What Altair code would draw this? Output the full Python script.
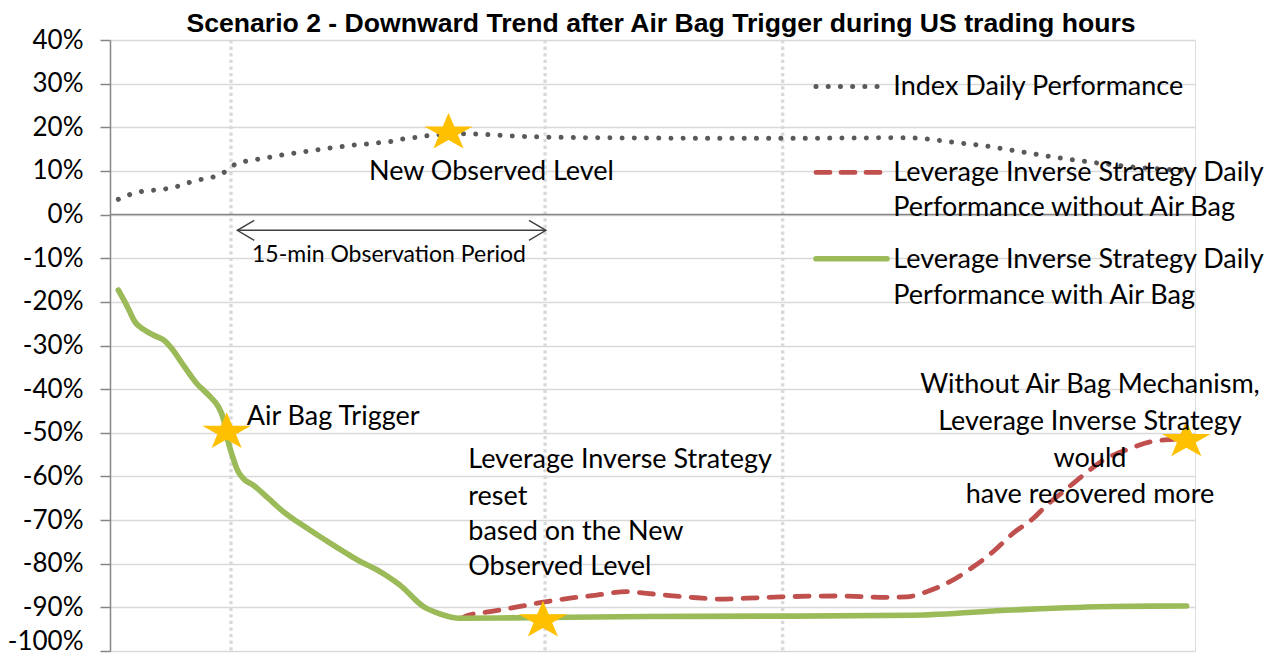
import altair as alt
import pandas as pd

# ---------------- data (x = time index 0..100 across the chart, y = performance in %) ----------------
index_t = [0.77, 1.84, 2.95, 4.06, 5.16, 6.27, 7.37, 8.48, 9.49, 10.6, 11.52, 12.63, 13.64, 14.84,
           15.94, 17.05, 18.16, 19.26, 20.37, 21.47, 22.67, 23.78, 24.88, 25.99, 27.19, 28.29, 29.4,
           31.15, 32.81, 35.02, 37.24, 39.54, 45.16, 54.38, 63.59, 73.55, 75.73, 77.97, 80.18, 82.49,
           84.7, 86.91, 89.22, 91.4, 93.55, 95.85, 97.7, 99.26]
index_v = [3.5, 4.6, 5.3, 5.6, 5.9, 6.5, 7.4, 8.1, 8.6, 9.8, 11.5, 12.3, 12.7, 13.2,
           13.7, 14.1, 14.5, 14.9, 15.3, 15.6, 16.0, 16.2, 16.5, 16.8, 17.4, 17.7, 18.1,
           18.4, 18.5, 18.3, 18.0, 17.8, 17.6, 17.5, 17.5, 17.6, 17.2, 16.5, 15.9, 15.0,
           14.1, 13.2, 12.4, 11.7, 11.1, 10.6, 10.3, 10.1]

common_t = [0.77, 1.54, 2.3, 3.07, 3.99, 5.07, 5.69, 6.76, 7.99, 9.22, 9.98, 10.44, 10.9, 11.36,
            11.68, 12.29, 13.21, 14.59, 15.94, 18.25, 20.55, 22.86, 24.88, 26.73, 28.88, 30.41, 32.26]
common_v = [-17.3, -20.8, -24.6, -26.3, -27.6, -29.0, -30.7, -34.5, -38.7, -41.7, -44.0, -46.7, -52.1, -55.9,
            -58.2, -60.5, -62.0, -65.0, -68.0, -72.0, -75.7, -79.2, -81.8, -84.9, -89.8, -91.5, -92.5]

with_bag_t = [37.17, 49.47, 63.29, 74.01, 83.23, 92.44, 99.23]
with_bag_v = [-92.4, -92.1, -92.0, -91.8, -90.6, -89.8, -89.7]

without_bag_t = [32.88, 35.02, 37.79, 39.94, 42.4, 44.86, 47.62, 49.47, 51.61, 54.07, 56.22, 58.68, 61.75,
                 66.98, 71.59, 73.43, 75.27, 77.42, 79.57, 81.41, 83.25, 85.1, 86.33, 87.86, 89.7, 91.55,
                 94.01, 95.85, 98.0, 99.26]
without_bag_v = [-91.9, -91.0, -89.8, -88.8, -87.9, -87.2, -86.4, -86.8, -87.3, -87.8, -88.1, -87.9, -87.6,
                 -87.4, -87.7, -87.6, -86.4, -84.1, -80.7, -77.2, -73.0, -69.6, -66.6, -63.5, -59.7, -56.3,
                 -53.6, -52.1, -51.5, -51.3]

star_t = [10.75, 31.2, 39.9, 99.2]
star_v = [-49.8, 18.8, -93.0, -51.7]

marker_t = [11.15, 40.1, 62.0]          # vertical dotted markers

arrow_t = [11.73, 40.18]
arrow_v = [-3.6]

y_ticks = [40, 30, 20, 10, 0, -10, -20, -30, -40, -50, -60, -70, -80, -90, -100]

left_notes = ["Air Bag Trigger", "New Observed Level", "Leverage Inverse Strategy", "reset",
              "based on the New", "Observed Level"]
left_notes_t = [12.6, 23.87, 33.02, 33.02, 33.02, 33.02]
left_notes_v = [-48.25, 7.85, -58.16, -66.57, -74.59, -82.6]

center_notes = ["Without Air Bag Mechanism,", "Leverage Inverse Strategy", "would", "have recovered more"]
center_notes_t = [90.32, 90.32, 90.32, 90.32]
center_notes_v = [-40.99, -49.39, -57.77, -66.18]

period_label = ["15-min Observation Period"]
period_t = [13.09]
period_v = [-10.83]

title_text = "Scenario 2 - Downward Trend after Air Bag Trigger during US trading hours"
legend_labels = ["Index Daily Performance",
                 "Leverage Inverse Strategy Daily", "Performance without Air Bag",
                 "Leverage Inverse Strategy Daily", "Performance with Air Bag"]

# ---------------- frames ----------------
df_index = pd.DataFrame({"t": index_t, "v": index_v})
df_green = pd.DataFrame({"t": common_t + with_bag_t, "v": common_v + with_bag_v})
df_red = pd.DataFrame({"t": common_t + without_bag_t, "v": common_v + without_bag_v})
df_star = pd.DataFrame({"t": star_t, "v": star_v})
df_mark = pd.DataFrame({"t": marker_t})
df_zero = pd.DataFrame({"v": [0]})
df_arrow = pd.DataFrame({"t": [arrow_t[0]], "t2": [arrow_t[1]], "v": arrow_v})
df_left = pd.DataFrame({"t": left_notes_t, "v": left_notes_v, "label": left_notes})
df_center = pd.DataFrame({"t": center_notes_t, "v": center_notes_v, "label": center_notes})
df_period = pd.DataFrame({"t": period_t, "v": period_v, "label": period_label})

# ---------------- styles ----------------
W, H = 1085, 611
FONT = "Lato"
TXT = 27
GRAY_AXIS = "#868686"
STAR = ("M0,-1L0.292,-0.309L1.236,-0.309L0.472,0.118L0.764,0.809L0,0.382"
        "L-0.764,0.809L-0.472,0.118L-1.236,-0.309L-0.292,-0.309Z")
HEAD_R = "M-1.7,-1L0,0L-1.7,1"
HEAD_L = "M1.7,-1L0,0L1.7,1"

xs = alt.Scale(domain=[0, 100], nice=False, zero=False)
ys = alt.Scale(domain=[-100, 40], nice=False, zero=False)
yaxis = alt.Axis(values=y_ticks, labelExpr="datum.value + '%'", title=None,
                 labelFont=FONT, labelFontSize=26, labelColor="#000000", labelPadding=17,
                 labelOffset={"condition": {"test": "datum.value === -100", "value": -10}, "value": 0},
                 tickSize=10, tickColor=GRAY_AXIS, tickWidth=1.5,
                 domainColor=GRAY_AXIS, domainWidth=1.5,
                 grid=True, gridColor="#d9d9d9", gridWidth=1.5)
X = alt.X("t:Q", scale=xs, axis=None)
Y = alt.Y("v:Q", scale=ys, axis=yaxis)

layers = []

# vertical dotted markers
layers.append(alt.Chart(df_mark).mark_rule(color="#d9d9d9", strokeWidth=3.3, strokeDash=[3.3, 3.3])
              .encode(x=X))
# zero line
layers.append(alt.Chart(df_zero).mark_rule(color=GRAY_AXIS, strokeWidth=1.5).encode(y=Y))

# observation period arrow
layers.append(alt.Chart(df_arrow).mark_rule(color="#404040", strokeWidth=1.4)
              .encode(x=X, x2="t2:Q", y=Y))
layers.append(alt.Chart(df_arrow).mark_point(shape=HEAD_L, filled=False, color="#404040", size=400,
                                             strokeWidth=1.4, opacity=1).encode(x=X, y=Y))
layers.append(alt.Chart(df_arrow).mark_point(shape=HEAD_R, filled=False, color="#404040", size=400,
                                             strokeWidth=1.4, opacity=1)
              .encode(x=alt.X("t2:Q", scale=xs, axis=None), y=Y))

# series
layers.append(alt.Chart(df_index).mark_line(interpolate="monotone", color="#595959", strokeWidth=5,
                                            strokeDash=[0.01, 12.2], strokeCap="round")
              .encode(x=X, y=Y))
layers.append(alt.Chart(df_red).mark_line(interpolate="monotone", color="#C0504D", strokeWidth=4.8,
                                          strokeDash=[14, 12], strokeCap="round")
              .encode(x=X, y=Y))
layers.append(alt.Chart(df_green).mark_line(interpolate="monotone", color="#9BBB59", strokeWidth=5.6,
                                            strokeCap="round", strokeJoin="round")
              .encode(x=X, y=Y))

# stars
layers.append(alt.Chart(df_star).mark_point(shape=STAR, filled=True, color="#FFC000", size=1558,
                                            opacity=1, strokeWidth=0).encode(x=X, y=Y))

# annotations
layers.append(alt.Chart(df_left).mark_text(align="left", baseline="alphabetic", font=FONT, fontSize=TXT,
                                           color="#000000").encode(x=X, y=Y, text="label:N"))
layers.append(alt.Chart(df_center).mark_text(align="center", baseline="alphabetic", font=FONT,
                                             fontSize=TXT, color="#000000")
              .encode(x=X, y=Y, text="label:N"))
layers.append(alt.Chart(df_period).mark_text(align="left", baseline="alphabetic", font=FONT,
                                             fontSize=23, color="#000000")
              .encode(x=X, y=Y, text="label:N"))

# title
layers.append(alt.Chart(pd.DataFrame({"label": [title_text]}))
              .mark_text(align="center", baseline="alphabetic", font="Liberation Sans", fontSize=26.6,
                         fontWeight="bold", color="#000000")
              .encode(text="label:N", x=alt.value(551), y=alt.value(-8)))

# legend
LX = 783.3
legend_y = [54.7, 141.4, 176.4, 228.0, 263.7]
for lab, py in zip(legend_labels, legend_y):
    layers.append(alt.Chart(pd.DataFrame({"label": [lab]}))
                  .mark_text(align="left", baseline="alphabetic", font=FONT, fontSize=TXT, color="#000000")
                  .encode(text="label:N", x=alt.value(LX), y=alt.value(py)))

one = pd.DataFrame({"k": [0]})
layers.append(alt.Chart(one).mark_rule(color="#595959", strokeWidth=5, strokeDash=[0.01, 12.2],
                                       strokeCap="round")
              .encode(x=alt.value(706), x2=alt.value(770), y=alt.value(46.4)))
layers.append(alt.Chart(one).mark_rule(color="#C0504D", strokeWidth=4.8, strokeDash=[14, 11],
                                       strokeCap="round")
              .encode(x=alt.value(706), x2=alt.value(770), y=alt.value(132.4)))
layers.append(alt.Chart(one).mark_rule(color="#9BBB59", strokeWidth=5.6, strokeCap="round")
              .encode(x=alt.value(706), x2=alt.value(777), y=alt.value(218.7)))

chart = (alt.layer(*layers)
         .properties(width=W, height=H,
                     autosize=alt.AutoSizeParams(type="none"),
                     padding={"left": 102, "top": 32, "right": 70, "bottom": 4})
         .configure_view(stroke=None)
         .configure(background="white"))

chart.save("out.html", embed_options={"renderer": "svg", "actions": False})
